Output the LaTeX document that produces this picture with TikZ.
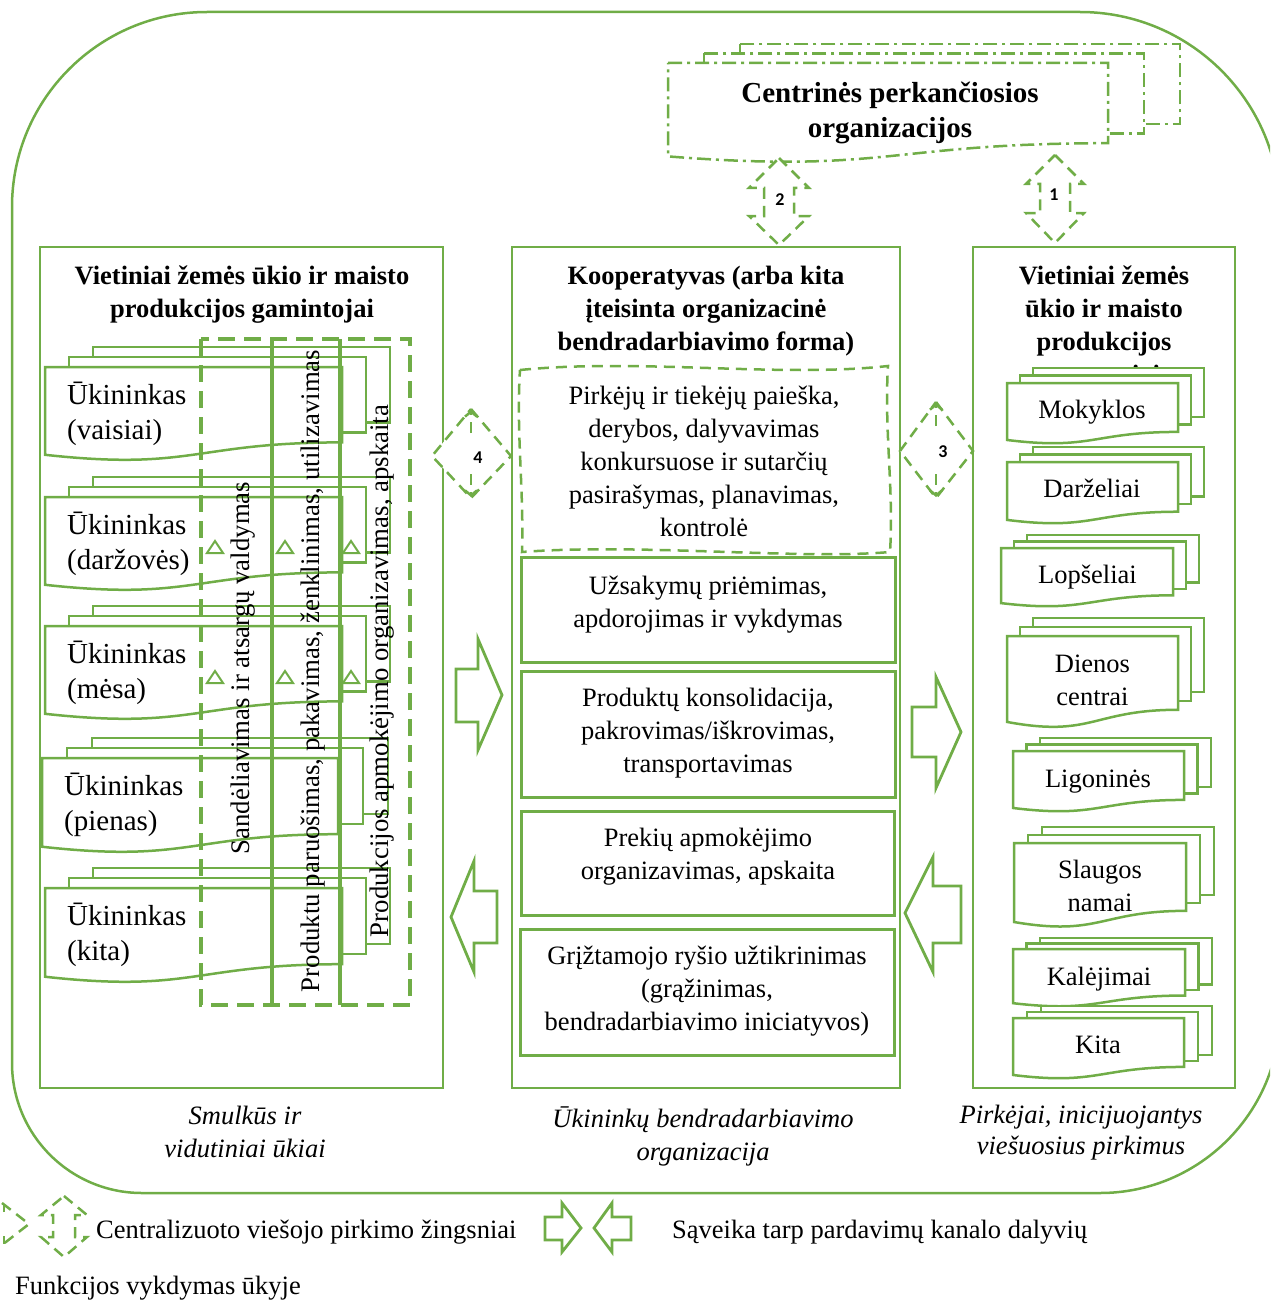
\documentclass[tikz,border=0pt]{standalone}
\usepackage{fontspec}
\setmainfont{Liberation Serif}
\newfontfamily\numfont{Carlito}
\usetikzlibrary{arrows.meta}
\definecolor{leaf}{RGB}{112,173,71}

\newcommand{\fsbody}{\fontsize{26.5}{33}\selectfont}
\newcommand{\fsfarm}{\fontsize{29}{35}\selectfont}
\newcommand{\fsbig}{\fontsize{29}{35}\selectfont}

% stack of three documents: #1 left, #2 top, #3 right, #4 full height, #5 dx, #6 dy, #7 style
\newcommand{\docstack}[7]{%
  \pgfmathsetmacro{\dsB}{#2+0.802*#4}%
  \pgfmathsetmacro{\dsW}{#2+1.107*#4}%
  \pgfmathsetmacro{\dsA}{#2+0.934*#4}%
  \pgfmathsetmacro{\dsM}{(#1+#3)/2}%
  \draw[#7] (#1+2*#5,#2-2*#6) rectangle (#3+2*#5,\dsB-2*#6);
  \draw[#7] (#1+#5,#2-#6) rectangle (#3+#5,\dsB-#6);
  \draw[#7] (#1,#2) -- (#3,#2) -- (#3,\dsB)
     .. controls (\dsM,\dsB) and (\dsM,\dsW) .. (#1,\dsA) -- cycle;
}
% clip to the front sheet of such a stack
\newcommand{\docclip}[4]{%
  \pgfmathsetmacro{\dsB}{#2+0.802*#4}%
  \pgfmathsetmacro{\dsW}{#2+1.107*#4}%
  \pgfmathsetmacro{\dsA}{#2+0.934*#4}%
  \pgfmathsetmacro{\dsM}{(#1+#3)/2}%
  \clip (#1,#2) -- (#3,#2) -- (#3,\dsB)
     .. controls (\dsM,\dsB) and (\dsM,\dsW) .. (#1,\dsA) -- cycle;
}
% dashed up-down arrow: #1 cx, #2 top tip, #3 upper head base, #4 lower head base, #5 bottom tip, #6 head half width, #7 shaft half width
\newcommand{\updown}[7]{%
  \draw[stepdash, fill=white] (#1,#2) -- (#1+#6,#3) -- (#1+#7,#3) -- (#1+#7,#4)
    -- (#1+#6,#4) -- (#1,#5) -- (#1-#6,#4) -- (#1-#7,#4) -- (#1-#7,#3) -- (#1-#6,#3) -- cycle;
}
% dashed diamond with short tipped stems: #1 cx, #2 top, #3 middle, #4 bottom, #5 left, #6 right, #7 stem length
\newcommand{\diamondstep}[7]{%
  \draw[stepdash, fill=white] (#1,#2) -- (#6,#3) -- (#1,#4) -- (#5,#3) -- cycle;
  \draw[stepdash, -{Straight Barb[length=5pt,width=12pt]}] (#1,#2+#7) -- (#1,#2+1);
  \draw[stepdash, -{Straight Barb[length=5pt,width=12pt]}] (#1,#4-#7) -- (#1,#4-1);
}

\tikzset{
  ln/.style={draw=leaf, line width=2.5pt},
  stage/.style={draw=leaf, line width=3pt},
  card/.style={draw=leaf, line width=2.5pt, fill=white},
  hub/.style={draw=leaf, line width=2.5pt, fill=white, dash pattern=on 14pt off 5pt on 3pt off 5pt},
  stepdash/.style={draw=leaf, line width=2.5pt, dash pattern=on 11pt off 7pt},
  band/.style={draw=leaf, line width=3.5pt, dash pattern=on 17pt off 9pt},
  divider/.style={draw=leaf, line width=3.5pt},
  block/.style={draw=leaf, line width=2.8pt, fill=white, line join=miter},
  tri/.style={draw=leaf, line width=2pt},
  body/.style={inner sep=0pt, font=\fsbody, align=center},
  head/.style={inner sep=0pt, font=\fsbody\bfseries, align=center},
  farm/.style={inner sep=0pt, font=\fsfarm, align=left},
  vtext/.style={inner sep=0pt, font=\fontsize{26.8}{33}\selectfont, rotate=90, anchor=base},
  note/.style={inner sep=0pt, align=center},
  num/.style={inner sep=0pt, font=\numfont\bfseries\fontsize{18}{20}\selectfont},
}

\begin{document}
\begin{tikzpicture}[x=1pt,y=-1pt]
\useasboundingbox (0,0) rectangle (1270,1300);
\clip (0,0) rectangle (1270,1300);

% outer rounded frame
\draw[ln] (12,207) arc[start angle=180,end angle=270,radius=195] -- (1080,12)
  arc[start angle=270,end angle=360,radius=200] -- (1280,1013)
  arc[start angle=0,end angle=90,radius=180] -- (142,1193)
  arc[start angle=90,end angle=180,radius=130] -- cycle;

% three column panels
\draw[ln] (40,247) rectangle (443,1088);
\draw[ln] (512,247) rectangle (900,1088);
\draw[ln] (973,247) rectangle (1235,1088);

% panel headings
\node[head, anchor=north] (hdL) at (242,261) {\strut Vietiniai žemės ūkio ir maisto\\produkcijos gamintojai};
\node[head, anchor=north] (hdM) at (706,261) {\strut Kooperatyvas (arba kita\\įteisinta organizacinė\\bendradarbiavimo forma)};
\node[head, anchor=north] (hdR) at (1104,261) {\strut Vietiniai žemės\\ūkio ir maisto\\produkcijos\\vartotojai};

% cooperative functions
\draw[stepdash] (520,370) .. controls (640,358) and (780,378) .. (888,366)
  .. controls (884,430) and (894,490) .. (890,552)
  .. controls (800,560) and (640,543) .. (522,552)
  .. controls (524,490) and (516,430) .. (520,370) -- cycle;
\node[body, anchor=north] (search) at (704,381) {\strut Pirkėjų ir tiekėjų paieška,\\derybos, dalyvavimas\\konkursuose ir sutarčių\\pasirašymas, planavimas,\\kontrolė};

\draw[stage] (521,557) rectangle (895,662);
\node[body, anchor=north] (orders) at (708,571) {\strut Užsakymų priėmimas,\\apdorojimas ir vykdymas};
\draw[stage] (521,671) rectangle (895,797);
\node[body, anchor=north] (logist) at (708,683) {\strut Produktų konsolidacija,\\pakrovimas/iškrovimas,\\transportavimas};
\draw[stage] (521,811) rectangle (894,915);
\node[body, anchor=north] (pay) at (708,823) {\strut Prekių apmokėjimo\\organizavimas, apskaita};
\draw[stage] (520,929) rectangle (894,1055);
\node[body, anchor=north] (fback) at (707,941) {\strut Grįžtamojo ryšio užtikrinimas\\(grąžinimas,\\bendradarbiavimo iniciatyvos)};

% farmers
\docstack{45}{367}{342}{94}{24}{10}{card}
\node[farm, anchor=north west] (fr1) at (67,379.5) {\strut Ūkininkas\\(vaisiai)};
\docstack{45}{497}{342}{94}{24}{10}{card}
\node[farm, anchor=north west] (fr2) at (67,509.5) {\strut Ūkininkas\\(daržovės)};
\docstack{45}{626}{342}{94}{24}{10}{card}
\node[farm, anchor=north west] (fr3) at (67,638.5) {\strut Ūkininkas\\(mėsa)};
\docstack{42}{758}{338}{95}{25}{10}{card}
\node[farm, anchor=north west] (fr4) at (64,770.5) {\strut Ūkininkas\\(pienas)};
\docstack{45}{888}{342}{95}{24}{10}{card}
\node[farm, anchor=north west] (fr5) at (67,900.5) {\strut Ūkininkas\\(kita)};

% on-farm functions
\draw[band] (201,339) rectangle (410,1005);
\draw[divider] (272,339) -- (272,1005);
\draw[divider] (340,339) -- (340,1005);
\node[vtext] (store) at (249,668) {Sandėliavimas ir atsargų valdymas};
\node[vtext] (prep) at (319,671) {Produktu paruošimas, pakavimas, ženklinimas, utilizavimas};
\node[vtext] (acct) at (388,671) {Produkcijos apmokėjimo organizavimas, apskaita};
\foreach \tx in {207,277,343} {
  \draw[tri] (\tx,553) -- (\tx+8,541) -- (\tx+16,553) -- cycle;
  \draw[tri] (\tx,683) -- (\tx+8,671) -- (\tx+16,683) -- cycle;
}

% public buyers
\docstack{1007}{383}{1178}{61}{13}{7.5}{card}
\node[body, anchor=base] (school) at (1092,418) {Mokyklos};
\docstack{1007}{462}{1178}{62}{13}{7.5}{card}
\node[body, anchor=base] (kinder) at (1092,497) {Darželiai};
\docstack{1001}{548}{1173}{59}{13}{6.5}{card}
\node[body, anchor=base] (nursery) at (1087.5,583) {Lopšeliai};
\docstack{1007}{636}{1178}{92}{13}{9}{card}
\node[body, anchor=north] (daycent) at (1092.5,649) {\strut Dienos\\centrai};
\docstack{1013}{751}{1184}{61}{13.5}{6.5}{card}
\node[body, anchor=base] (hosp) at (1098,787) {Ligoninės};
\docstack{1014}{843}{1186}{84.6}{14}{8}{card}
\begin{scope}
  \docclip{1014}{843}{1186}{84.6}
  \node[body, anchor=north] (care) at (1100,855) {\strut Slaugos\\namai};
\end{scope}
\docstack{1013}{949}{1185}{58}{13.5}{5.5}{card}
\node[body, anchor=base] (prison) at (1099,985) {Kalėjimai};
\docstack{1013}{1018}{1184}{61}{14}{6}{card}
\node[body, anchor=base] (other) at (1098,1053) {Kita};

% central purchasing bodies
\docstack{668}{63}{1108}{100}{36}{9.5}{hub}
\node[inner sep=0pt, font=\fsbig\bfseries, align=center, anchor=north] (cpo) at (890,77.5) {\strut Centrinės perkančiosios\\organizacijos};

% procurement steps
\updown{779}{158}{188}{216}{245}{30}{15}
\node[num] (n2) at (780,200) {2};
\updown{1055}{155}{184}{213}{243}{29}{15}
\node[num] (n1) at (1054,195) {1};
\diamondstep{471}{409}{456}{498}{432}{511}{24}
\node[num] (n4) at (478,458) {4};
\diamondstep{936}{402}{451}{498}{900}{973}{24}
\node[num] (n3) at (943,452) {3};

% flows between channel members
\draw[block] (456,669) -- (478,669) -- (478,639) -- (502,695) -- (478,750) -- (478,722) -- (456,722) -- cycle;
\draw[block] (497,891) -- (474,891) -- (474,861) -- (451,917) -- (474,972) -- (474,943) -- (497,943) -- cycle;
\draw[block] (912,707) -- (936,707) -- (936,677) -- (961,732) -- (936,788) -- (936,757) -- (912,757) -- cycle;
\draw[block] (961,886) -- (933,886) -- (933,857) -- (905,913) -- (933,972) -- (933,943) -- (961,943) -- cycle;

% column captions
\node[note, font=\itshape\fontsize{26.5}{33}\selectfont, anchor=north] (capL) at (245,1101) {\strut Smulkūs ir\\vidutiniai ūkiai};
\node[note, font=\itshape\fontsize{26.5}{33}\selectfont, anchor=north] (capM) at (703,1104) {\strut Ūkininkų bendradarbiavimo\\organizacija};
\node[note, font=\itshape\fontsize{26.5}{31}\selectfont, anchor=north] (capR) at (1081,1101.3) {\strut Pirkėjai, inicijuojantys\\viešuosius pirkimus};

% legend
\draw[stepdash] (2,1203) -- (29,1224) -- (2,1245);
\draw[stepdash] (4,1212) -- (4,1205);
\draw[stepdash] (4,1236) -- (4,1244);
\updown{64}{1196}{1215}{1237}{1257}{23}{11}
\node[body, anchor=base west] (lgsteps) at (96,1238) {Centralizuoto viešojo pirkimo žingsniai};
\draw[block] (545,1217) -- (562,1217) -- (562,1203) -- (581,1228) -- (562,1252) -- (562,1240) -- (545,1240) -- cycle;
\draw[block] (631,1217) -- (612,1217) -- (612,1203) -- (594,1228) -- (612,1252) -- (612,1240) -- (631,1240) -- cycle;
\node[body, anchor=base west] (lgflow) at (672,1238) {Sąveika tarp pardavimų kanalo dalyvių};
\node[body, anchor=base west] (lgfarm) at (15,1294) {Funkcijos vykdymas ūkyje};
\end{tikzpicture}
\end{document}
